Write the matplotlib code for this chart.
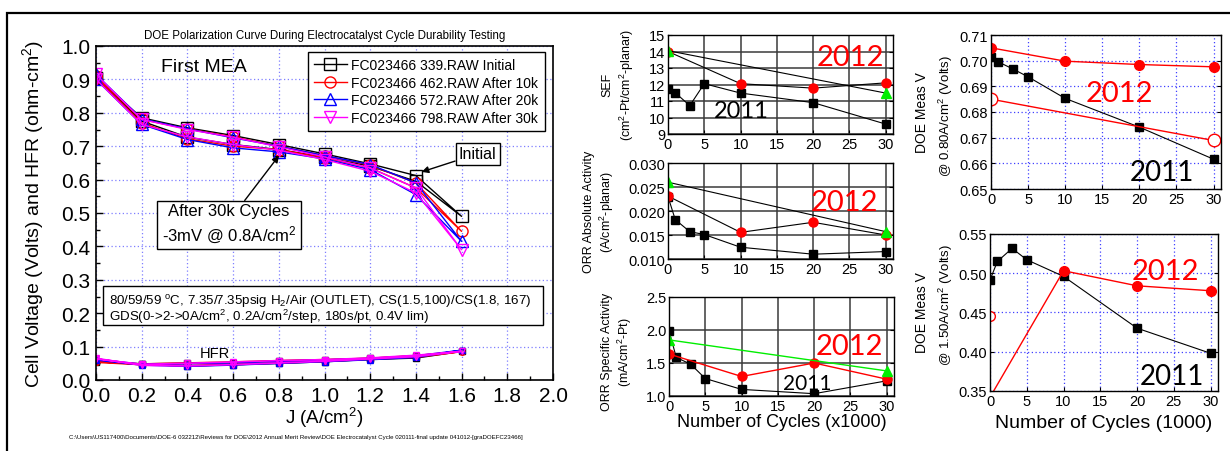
import matplotlib
matplotlib.use("Agg")
import matplotlib.pyplot as plt
from matplotlib.patches import Rectangle
from matplotlib.ticker import MultipleLocator, FormatStrFormatter

plt.rcParams['font.family'] = ['Liberation Sans', 'DejaVu Sans']
plt.rcParams['mathtext.fontset'] = 'custom'
plt.rcParams['mathtext.rm'] = 'Liberation Sans'
plt.rcParams['mathtext.it'] = 'Liberation Sans:italic'
plt.rcParams['mathtext.bf'] = 'Liberation Sans:bold'

# ---------------- data: polarization curves (forward 0->1.6, reverse 1.4->0) ----------
J_fwd = [0.0, 0.2, 0.4, 0.6, 0.8, 1.0, 1.2, 1.4, 1.6]
J_rev = [1.4, 1.2, 1.0, 0.8, 0.6, 0.4, 0.2, 0.0]

series_labels = ["FC023466 339.RAW Initial", "FC023466 462.RAW After 10k",
                 "FC023466 572.RAW After 20k", "FC023466 798.RAW After 30k"]
series_colors = ["#000000", "#ff0000", "#0000ff", "#ff00ff"]
series_markers = ["s", "o", "^", "v"]

V_init_fwd = [0.905, 0.785, 0.755, 0.732, 0.705, 0.677, 0.647, 0.612, 0.490]
V_init_rev = [0.595, 0.640, 0.667, 0.690, 0.705, 0.727, 0.775, 0.905]
V_10k_fwd = [0.910, 0.780, 0.752, 0.728, 0.700, 0.672, 0.643, 0.590, 0.445]
V_10k_rev = [0.575, 0.635, 0.665, 0.690, 0.700, 0.722, 0.770, 0.905]
V_20k_fwd = [0.915, 0.782, 0.752, 0.725, 0.700, 0.672, 0.645, 0.590, 0.415]
V_20k_rev = [0.555, 0.630, 0.662, 0.683, 0.695, 0.720, 0.765, 0.900]
V_30k_fwd = [0.915, 0.780, 0.750, 0.727, 0.698, 0.668, 0.635, 0.575, 0.390]
V_30k_rev = [0.560, 0.625, 0.660, 0.688, 0.705, 0.728, 0.765, 0.900]

HFR_init_fwd = [0.055, 0.047, 0.042, 0.046, 0.050, 0.055, 0.062, 0.066, 0.086]
HFR_init_rev = [0.072, 0.065, 0.060, 0.057, 0.052, 0.050, 0.048, 0.056]
HFR_10k_fwd = [0.053, 0.046, 0.043, 0.046, 0.051, 0.056, 0.062, 0.068, 0.085]
HFR_10k_rev = [0.073, 0.065, 0.061, 0.058, 0.054, 0.051, 0.048, 0.055]
HFR_20k_fwd = [0.060, 0.045, 0.041, 0.045, 0.050, 0.055, 0.061, 0.068, 0.089]
HFR_20k_rev = [0.072, 0.064, 0.060, 0.056, 0.052, 0.049, 0.047, 0.062]
HFR_30k_fwd = [0.065, 0.044, 0.042, 0.046, 0.051, 0.056, 0.063, 0.070, 0.086]
HFR_30k_rev = [0.074, 0.066, 0.061, 0.058, 0.054, 0.050, 0.047, 0.063]

V_fwd = [V_init_fwd, V_10k_fwd, V_20k_fwd, V_30k_fwd]
V_rev = [V_init_rev, V_10k_rev, V_20k_rev, V_30k_rev]
HFR_fwd = [HFR_init_fwd, HFR_10k_fwd, HFR_20k_fwd, HFR_30k_fwd]
HFR_rev = [HFR_init_rev, HFR_10k_rev, HFR_20k_rev, HFR_30k_rev]

# ---------------- data: durability panels ----------------
cyc_2011 = [0, 1, 3, 5, 10, 20, 30]
cyc_2012 = [0, 10, 20, 30]
cyc_ends = [0, 30]

SEF_2011 = [11.7, 11.5, 10.72, 12.05, 11.48, 10.9, 9.6]
SEF_2012 = [14.0, 12.05, 11.78, 12.1]
SEF_green = [14.05, 11.48]

ORRabs_2011 = [0.0230, 0.0182, 0.0157, 0.0151, 0.01245, 0.0110, 0.01155]
ORRabs_2012 = [0.0231, 0.01555, 0.01765, 0.0150]
ORRabs_green = [0.0260, 0.0157]

ORRsp_2011 = [1.99, 1.585, 1.48, 1.265, 1.10, 1.035, 1.23]
ORRsp_2012 = [1.636, 1.296, 1.50, 1.255]
ORRsp_green = [1.85, 1.38]

V08_2011 = [0.7015, 0.6995, 0.6967, 0.6937, 0.6853, 0.6741, 0.6616]
V08_2012 = [0.7050, 0.6998, 0.6985, 0.6976]
V08_2012_open = [0.6850, 0.6689]

V15_2011 = [0.4913, 0.515, 0.5317, 0.5172, 0.4960, 0.4300, 0.3980]
V15_2012 = [0.342, 0.5032, 0.4840, 0.4777]
V15_2012_open = [0.445]

W, H = 1230, 452
fig = plt.figure(figsize=(W / 100, H / 100), dpi=100)


def fx(px):
    return px / W


def fy(py):
    return 1 - py / H


def axes_px(l, t, r, b):
    return fig.add_axes([fx(l), fy(b), (r - l) / W, (b - t) / H])


# outer frame
fig.add_artist(Rectangle((fx(7), -0.1), 1.2, fy(14) + 0.1, transform=fig.transFigure,
                         fill=False, edgecolor='black', lw=1.6))

# ---------------- main polarization plot ----------------
ax = axes_px(96, 47, 553, 381)
ax.set_xlim(0, 2.0)
ax.set_ylim(0, 1.0)
ax.xaxis.set_major_locator(MultipleLocator(0.2))
ax.xaxis.set_minor_locator(MultipleLocator(0.1))
ax.yaxis.set_major_locator(MultipleLocator(0.1))
ax.yaxis.set_minor_locator(MultipleLocator(0.05))
ax.xaxis.set_major_formatter(FormatStrFormatter('%.1f'))
ax.yaxis.set_major_formatter(FormatStrFormatter('%.1f'))
ax.tick_params(which='both', direction='in', top=False, right=False, labelsize=15, pad=4)
ax.tick_params(which='major', length=5, width=1)
ax.tick_params(which='minor', length=3, width=1)
for s in ax.spines.values():
    s.set_linewidth(1.2)
ax.grid(True, which='major', color='#7f7fff', linestyle=(0, (1, 2)), lw=0.9)
ax.set_axisbelow(True)

for i in range(4):
    ax.plot(J_fwd + J_rev, V_fwd[i] + V_rev[i], color=series_colors[i], lw=1.0,
            marker=series_markers[i], ms=8, mfc='none', mew=1.0, label=series_labels[i])
    ax.plot(J_fwd + J_rev, HFR_fwd[i] + HFR_rev[i], color=series_colors[i], lw=1.2,
            marker=series_markers[i], ms=4, mfc='none', mew=1.0)

leg = ax.legend(loc='upper right', bbox_to_anchor=(0.982, 0.982), fontsize=10,
                frameon=True, fancybox=False, edgecolor='black', framealpha=1,
                handlelength=2.4, handletextpad=0.3, labelspacing=0.25,
                borderpad=0.45, borderaxespad=0)
leg.get_frame().set_linewidth(1.0)

ax.text(0.5, 1.0 + 11 / 334, "DOE Polarization Curve During Electrocatalyst Cycle Durability Testing",
        transform=ax.transAxes, ha='center', va='center', fontsize=8.3)
ax.text(0.47, 0.94, "First MEA", ha='center', va='center', fontsize=14)
ax.text(0.519, 0.082, "HFR", ha='center', va='center', fontsize=10.5)

ax.annotate("Initial", xy=(1.425, 0.623), xytext=(1.67, 0.677), ha='center', va='center',
            fontsize=11.5,
            bbox=dict(boxstyle='square,pad=0.2', fc='white', ec='black', lw=1),
            arrowprops=dict(arrowstyle='-|>', color='black', lw=1, mutation_scale=10,
                            shrinkA=0, shrinkB=0, relpos=(0, 0.1)))
ax.annotate("After 30k Cycles\n-3mV @ 0.8A/cm$^2$", xy=(0.801, 0.672), xytext=(0.582, 0.466),
            ha='center', va='center', fontsize=12, linespacing=1.35,
            bbox=dict(boxstyle='square,pad=0.25', fc='white', ec='black', lw=1),
            arrowprops=dict(arrowstyle='-|>', color='black', lw=1, mutation_scale=10,
                            shrinkA=0, shrinkB=0, relpos=(0.6, 1.0)))

ax.add_patch(Rectangle((0.0306, 0.1647), 1.925, 0.1167, fc='white', ec='black', lw=1, zorder=4))
ax.text(0.056, 0.2395, "80/59/59 $^\\mathrm{o}$C, 7.35/7.35psig H$_2$/Air (OUTLET), CS(1.5,100)/CS(1.8, 167)",
        ha='left', va='center', fontsize=9.6, zorder=5)
ax.text(0.056, 0.1916, "GDS(0->2->0A/cm$^2$, 0.2A/cm$^2$/step, 180s/pt, 0.4V lim)",
        ha='left', va='center', fontsize=9.6, zorder=5)

ax.set_xlabel("J (A/cm$^2$)", fontsize=13.5)
ax.xaxis.set_label_coords(0.5, -(406 - 381) / 334)
ax.set_ylabel("Cell Voltage (Volts) and HFR (ohm-cm$^2$)", fontsize=14)
ax.yaxis.set_label_coords(-(96 - 46) / 457, 0.5)

fig.text(fx(296), fy(438),
         "C:\\Users\\US117400\\Documents\\DOE-6 032212\\Reviews for DOE\\2012 Annual Merit Review\\"
         "DOE Electrocatalyst Cycle 020111-final update 041012-[graDOEFC23466]",
         ha='center', va='center', fontsize=4.4)


# ---------------- small panels ----------------
def style_small(a, ylim, ystep, yfmt, grid_style):
    a.set_xlim(0, 31)
    a.set_ylim(*ylim)
    a.xaxis.set_major_locator(MultipleLocator(5))
    a.yaxis.set_major_locator(MultipleLocator(ystep))
    a.yaxis.set_major_formatter(FormatStrFormatter(yfmt))
    a.tick_params(which='both', direction='in', labelsize=10.5, pad=2, length=3,
                  right=True, top=False)
    for s in a.spines.values():
        s.set_linewidth(1.0)
    if grid_style == 'solid':
        a.grid(True, color='#3a3a3a', lw=1.1)
    else:
        a.grid(True, color='#4040ff', linestyle=(0, (1, 2)), lw=0.9)
    a.set_axisbelow(True)


MS = 6
big_fs = 21
font2012 = ['Lato', 'DejaVu Sans']

# SEF
a1 = axes_px(668, 36, 893, 135)
style_small(a1, (9, 15), 1, '%d', 'solid')
a1.plot(cyc_2011, SEF_2011, color='k', lw=0.8, marker='s', ms=MS, mfc='k', mec='k')
a1.plot(cyc_2012, SEF_2012, color='k', lw=0.8, marker='o', ms=MS + 0.5, mfc='#ff0000', mec='#ff0000')
a1.plot(cyc_ends, SEF_green, color='k', lw=0.8, marker='^', ms=MS + 0.5, mfc='#00ee00', mec='#00ee00')
fig.text(fx(850), fy(58), "2012", color='#ff0000', fontsize=big_fs, ha='center', va='center', family=font2012)
fig.text(fx(741), fy(112), "2011", color='k', fontsize=17, ha='center', va='center', family=font2012)
fig.text(fx(607), fy(85), "SEF", rotation=90, fontsize=9, ha='center', va='center')
fig.text(fx(627), fy(85), "(cm$^2$-Pt/cm$^2$-planar)", rotation=90, fontsize=9, ha='center', va='center')

# ORR absolute
a2 = axes_px(668, 164, 893, 260)
style_small(a2, (0.010, 0.030), 0.005, '%.3f', 'solid')
a2.plot(cyc_2011, ORRabs_2011, color='k', lw=0.8, marker='s', ms=MS, mfc='k', mec='k')
a2.plot(cyc_2012, ORRabs_2012, color='k', lw=0.8, marker='o', ms=MS + 0.5, mfc='#ff0000', mec='#ff0000')
a2.plot(cyc_ends, ORRabs_green, color='k', lw=0.8, marker='^', ms=MS + 0.5, mfc='#00ee00', mec='#00ee00')
fig.text(fx(844), fy(203), "2012", color='#ff0000', fontsize=big_fs, ha='center', va='center', family=font2012)
fig.text(fx(589), fy(212), "ORR Absolute Activity", rotation=90, fontsize=9, ha='center', va='center')
fig.text(fx(607), fy(212), "(A/cm$^2$-planar)", rotation=90, fontsize=9, ha='center', va='center')

# ORR specific
a3 = axes_px(669, 298, 894, 397)
style_small(a3, (1.0, 2.5), 0.5, '%.1f', 'solid')
a3.plot(cyc_2011, ORRsp_2011, color='k', lw=0.8, marker='s', ms=MS, mfc='k', mec='k')
a3.plot(cyc_2012, ORRsp_2012, color='#ff0000', lw=1.0, marker='o', ms=MS + 0.5, mfc='#ff0000', mec='#ff0000')
a3.plot(cyc_ends, ORRsp_green, color='#00ee00', lw=1.0, marker='^', ms=MS + 0.5, mfc='#00ee00', mec='#00ee00')
fig.text(fx(849), fy(347), "2012", color='#ff0000', fontsize=big_fs, ha='center', va='center', family=font2012)
fig.text(fx(807), fy(384), "2011", color='k', fontsize=15, ha='center', va='center', family=font2012)
fig.text(fx(607), fy(352), "ORR Specific Activity", rotation=90, fontsize=9, ha='center', va='center')
fig.text(fx(625), fy(352), "(mA/cm$^2$-Pt)", rotation=90, fontsize=9, ha='center', va='center')
a3.set_xlabel("Number of Cycles (x1000)", fontsize=13)
a3.xaxis.set_label_coords(0.5, -(414 - 397) / 99)

# DOE V @ 0.8
a4 = axes_px(991, 36, 1221, 190)
style_small(a4, (0.65, 0.71), 0.01, '%.2f', 'dotted')
a4.plot(cyc_2011, V08_2011, color='k', lw=0.8, marker='s', ms=MS, mfc='k', mec='k')
a4.plot(cyc_2012, V08_2012, color='#ff0000', lw=1.0, marker='o', ms=MS + 1, mfc='#ff0000', mec='#ff0000')
a4.plot(cyc_ends, V08_2012_open, color='#ff0000', lw=1.0, marker='o', ms=MS + 3, mfc='white', mec='#ff0000')
fig.text(fx(1119), fy(94), "2012", color='#ff0000', fontsize=big_fs, ha='center', va='center', family=font2012)
fig.text(fx(1162), fy(173), "2011", color='k', fontsize=20, ha='center', va='center', family=font2012)
fig.text(fx(922), fy(113), "DOE Meas V", rotation=90, fontsize=10, ha='center', va='center')
fig.text(fx(946), fy(116), "@ 0.80A/cm$^2$ (Volts)", rotation=90, fontsize=9.5, ha='center', va='center')

# DOE V @ 1.5
a5 = axes_px(990, 235, 1218, 392)
style_small(a5, (0.35, 0.55), 0.05, '%.2f', 'dotted')
a5.plot(cyc_2011, V15_2011, color='k', lw=0.8, marker='s', ms=MS, mfc='k', mec='k')
a5.plot(cyc_2012, V15_2012, color='#ff0000', lw=1.0, marker='o', ms=MS + 1, mfc='#ff0000', mec='#ff0000')
a5.plot([0], V15_2012_open, color='#ff0000', lw=1.0, marker='o', ms=MS + 1, mfc='white', mec='#ff0000')
fig.text(fx(1165), fy(272), "2012", color='#ff0000', fontsize=big_fs, ha='center', va='center', family=font2012)
fig.text(fx(1172), fy(377), "2011", color='k', fontsize=20, ha='center', va='center', family=font2012)
fig.text(fx(922), fy(313), "DOE Meas V", rotation=90, fontsize=10, ha='center', va='center')
fig.text(fx(946), fy(305), "@ 1.50A/cm$^2$ (Volts)", rotation=90, fontsize=9.5, ha='center', va='center')
a5.set_xlabel("Number of Cycles (1000)", fontsize=14)
a5.xaxis.set_label_coords(0.5, -(415 - 392) / 157)

fig.savefig("out.png", dpi=100)
